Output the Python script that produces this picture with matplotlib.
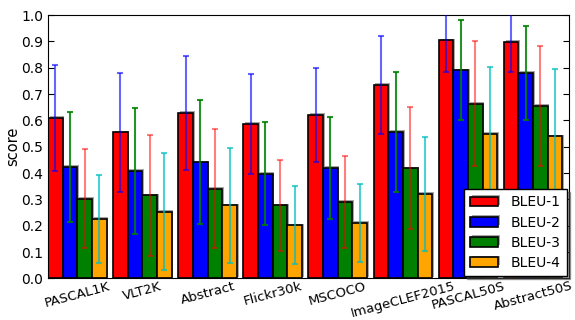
import matplotlib
matplotlib.use("Agg")
import matplotlib.pyplot as plt
import matplotlib.patheffects as pe
import numpy as np

categories = ["PASCAL1K", "VLT2K", "Abstract", "Flickr30k", "MSCOCO",
              "ImageCLEF2015", "PASCAL50S", "Abstract50S"]
series = ["BLEU-1", "BLEU-2", "BLEU-3", "BLEU-4"]
bleu1 = [0.609, 0.554, 0.628, 0.587, 0.620, 0.734, 0.904, 0.899]
bleu2 = [0.423, 0.409, 0.441, 0.398, 0.419, 0.557, 0.790, 0.781]
bleu3 = [0.303, 0.316, 0.340, 0.277, 0.290, 0.418, 0.664, 0.654]
bleu4 = [0.227, 0.254, 0.278, 0.202, 0.211, 0.321, 0.548, 0.540]
err1 = [0.200, 0.226, 0.216, 0.190, 0.178, 0.186, 0.122, 0.115]
err2 = [0.209, 0.239, 0.236, 0.196, 0.195, 0.228, 0.190, 0.178]
err3 = [0.188, 0.230, 0.226, 0.173, 0.175, 0.231, 0.238, 0.227]
err4 = [0.167, 0.222, 0.219, 0.148, 0.149, 0.216, 0.256, 0.254]

values = [bleu1, bleu2, bleu3, bleu4]
errors = [err1, err2, err3, err4]
colors = ["red", "blue", "green", "orange"]
ecolors = [(0, 0, 1, 0.6), (0, 0.5, 0, 0.85), (1, 0, 0, 0.5), (0, 0.75, 0.75, 0.7)]

fig = plt.figure(figsize=(5.75, 3.2), dpi=100)
ax = fig.add_axes([0.0835, 0.13, 0.906, 0.823])

width = 0.225
x = np.arange(len(categories))
shadow = [pe.SimplePatchShadow(offset=(1.2, 1.2), shadow_rgbFace="gray", alpha=0.7), pe.Normal()]
for j in range(4):
    bars = ax.bar(x + j * width, values[j], width, align="edge", color=colors[j],
                  edgecolor="black", linewidth=1.2, label=series[j], zorder=2)
    for b in bars:
        b.set_path_effects(shadow)
for j in range(4):
    ax.errorbar(x + j * width + width / 2, values[j], yerr=errors[j], fmt="none",
                ecolor=ecolors[j], elinewidth=1.5, capsize=2, capthick=1.5, zorder=3)

ax.set_xlim(0, len(categories))
ax.set_ylim(0, 1.0)
ax.set_yticks(np.arange(0, 1.01, 0.1))
ax.set_yticklabels([f"{v:.1f}" for v in np.arange(0, 1.01, 0.1)], fontsize=10)
ax.set_xticks(x + 2 * width)
ax.set_xticklabels(categories, rotation=15, fontsize=9.5, ha="center")
ax.tick_params(axis="y", direction="in", right=True, length=4)
ax.tick_params(axis="x", length=0, pad=1)
ax.set_ylabel("score", fontsize=10.5, labelpad=1)

leg = ax.legend(loc="lower right", fontsize=10, shadow=True, fancybox=False,
                handlelength=2.0, borderaxespad=0.15, labelspacing=0.45,
                handletextpad=0.9, borderpad=0.45)
leg.get_frame().set_edgecolor("black")

fig.savefig("out.png", dpi=100)
